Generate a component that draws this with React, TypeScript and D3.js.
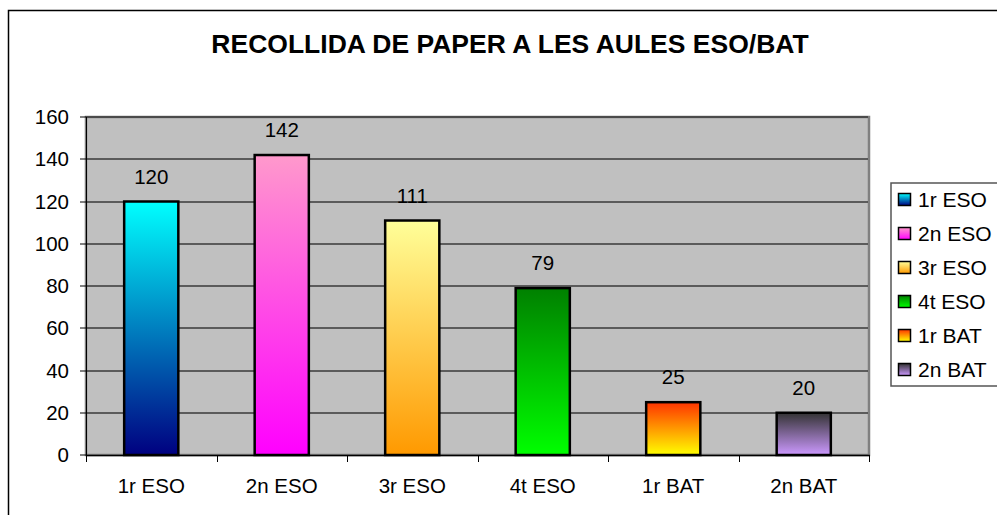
import React from "react";
import * as d3 from "d3";

const categories = ["1r ESO", "2n ESO", "3r ESO", "4t ESO", "1r BAT", "2n BAT"];
const values = [120, 142, 111, 79, 25, 20];
const gradTop = ["#00FFFF", "#FF99CC", "#FFFF99", "#008000", "#FF3300", "#333333"];
const gradBottom = ["#000080", "#FF00FF", "#FF9900", "#00FF00", "#FFFF00", "#CC99FF"];
const yTicks = [0, 20, 40, 60, 80, 100, 120, 140, 160];
const title = "RECOLLIDA DE PAPER A LES AULES ESO/BAT";

const W = 997;
const H = 515;
const plot = { left: 86, right: 869, top: 117, bottom: 455 };
const font = "Arial, 'Liberation Sans', sans-serif";

export default function App() {
  const x = d3.scaleBand<string>().domain(categories).range([plot.left, plot.right]).padding(0);
  const y = d3.scaleLinear().domain([0, 160]).range([plot.bottom, plot.top]);
  const bw = x.bandwidth() * 0.415;
  const snap = (v: number) => Math.round(v) + 0.5;

  return (
    <div style={{ position: "absolute", left: 0, top: 0 }}>
      <svg width={W} height={H} style={{ display: "block", background: "#fff" }}>
        <defs>
          {categories.map((c, i) => (
            <linearGradient key={c} id={`g${i}`} x1="0" y1="0" x2="0" y2="1">
              <stop offset="0" stopColor={gradTop[i]} />
              <stop offset="1" stopColor={gradBottom[i]} />
            </linearGradient>
          ))}
        </defs>
        {/* outer chart border */}
        <rect x={8.5} y={10.5} width={W + 20} height={H + 20} fill="#fff" stroke="#000" strokeWidth={1.5} />
        {/* title */}
        <text x={510} y={52.5} textAnchor="middle" fontFamily={font} fontWeight="bold" fontSize={26.5} fill="#000">
          {title}
        </text>
        {/* plot area */}
        <rect x={plot.left} y={plot.top} width={plot.right - plot.left} height={plot.bottom - plot.top} fill="#C0C0C0" stroke="#808080" strokeWidth={2.5} />
        {/* gridlines */}
        {yTicks.slice(1).map((t) => (
          <line key={t} x1={plot.left} x2={plot.right - 1} y1={snap(y(t)) - 0.5} y2={snap(y(t)) - 0.5} stroke="#3a3a3a" strokeWidth={1.5} />
        ))}
        {/* y axis */}
        <line x1={snap(plot.left)} x2={snap(plot.left)} y1={plot.top} y2={plot.bottom + 6} stroke="#000" strokeWidth={1} />
        {yTicks.map((t) => (
          <g key={t}>
            <line x1={80} x2={plot.left} y1={snap(y(t)) - 0.5} y2={snap(y(t)) - 0.5} stroke="#000" strokeWidth={1} />
            <text x={69} y={y(t) + 7} textAnchor="end" fontFamily={font} fontSize={20.5} fill="#000">
              {t}
            </text>
          </g>
        ))}
        {/* x axis */}
        <line x1={plot.left} x2={plot.right + 1} y1={plot.bottom + 0.5} y2={plot.bottom + 0.5} stroke="#000" strokeWidth={1.5} />
        {categories.map((c) => (
          <line key={c} x1={snap(x(c)!)} x2={snap(x(c)!)} y1={plot.bottom} y2={plot.bottom + 7} stroke="#000" strokeWidth={1} />
        ))}
        <line x1={snap(plot.right)} x2={snap(plot.right)} y1={plot.bottom} y2={plot.bottom + 7} stroke="#000" strokeWidth={1} />
        {categories.map((c) => (
          <text key={c} x={x(c)! + x.bandwidth() / 2} y={493} textAnchor="middle" fontFamily={font} fontSize={20.5} fill="#000">
            {c}
          </text>
        ))}
        {/* bars */}
        {categories.map((c, i) => {
          const cx = x(c)! + x.bandwidth() / 2;
          return (
            <g key={c}>
              <rect x={cx - bw / 2} y={y(values[i])} width={bw} height={plot.bottom - y(values[i])} fill={`url(#g${i})`} stroke="#000" strokeWidth={2.5} />
              <text x={cx} y={y(values[i]) - 18} textAnchor="middle" fontFamily={font} fontSize={20.5} fill="#000">
                {values[i]}
              </text>
            </g>
          );
        })}
        {/* legend */}
        <rect x={891} y={183} width={120} height={203} fill="#fff" stroke="#555" strokeWidth={1.5} />
        {categories.map((c, i) => {
          const cy = 200 + i * 34;
          return (
            <g key={c}>
              <rect x={898.5} y={cy - 6.5} width={12} height={12} fill={`url(#g${i})`} stroke="#000" strokeWidth={1.5} />
              <text x={918} y={cy + 7} fontFamily={font} fontSize={21} fill="#000">
                {c}
              </text>
            </g>
          );
        })}
      </svg>
    </div>
  );
}
